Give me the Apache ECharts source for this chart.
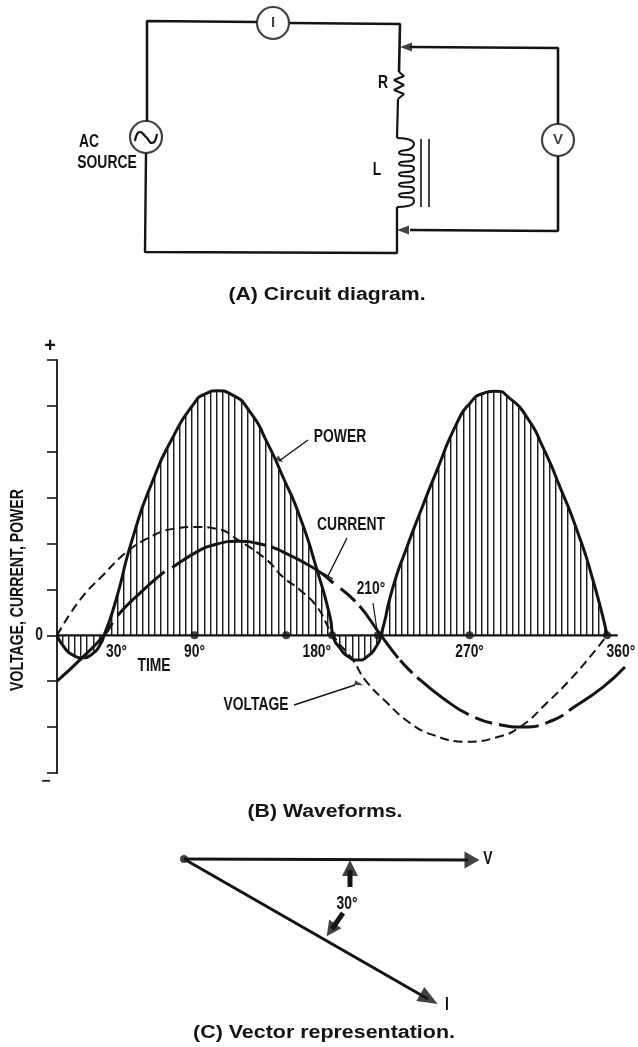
<!DOCTYPE html>
<html><head><meta charset="utf-8">
<style>html,body{margin:0;padding:0;background:#fff}#c{width:638px;height:1047px}</style>
<script src="https://cdn.jsdelivr.net/npm/echarts@6/dist/echarts.min.js"></script>
</head><body><div id="c"></div>
<script>
// --- waveform data: [degrees, relative value]
var power=[[0,0],[5.2,-.28],[10.5,-.43],[16.4,-.49],[22.9,-.41],[28.1,-.21],[30.8,0],[38,.7],[49.7,2.14],[62.8,3.38],[75.9,4.32],[89,5.02],[97,5.26],[105.4,5.33],[114,5.25],[126.3,4.87],[137.4,4.21],[147.9,3.45],[159,2.58],[170.2,1.42],[178.7,.4],[180.6,0],[185.2,-.28],[191,-.47],[196.9,-.54],[203.5,-.45],[208.8,-.25],[212,0],[219.9,1.05],[229,1.92],[237.6,2.67],[248.7,3.6],[261.8,4.63],[270.3,5.06],[278.8,5.27],[286.6,5.32],[296.5,5.16],[307.6,4.75],[318,4.1],[329.2,3.23],[340.3,2.29],[350.8,1.2],[360,0]];
var voltage=[[0,0],[15,.77],[30.1,1.31],[45.8,1.82],[60.9,2.14],[75.9,2.32],[91.6,2.36],[104.7,2.32],[119.8,2.05],[137.4,1.64],[147.9,1.27],[159,.99],[170.2,.62],[180.6,0],[193.7,-.54],[201.6,-.97],[216,-1.47],[231,-1.91],[246,-2.17],[268.3,-2.32],[288,-2.22],[303,-2],[320.7,-1.47],[335.7,-.97],[348.8,-.47],[360,0]];
var current=[[0,-1],[16.4,-.49],[30.8,0],[39.9,.44],[54.3,.92],[69.4,1.36],[75.9,1.49],[91.6,1.82],[104.7,1.99],[118.5,2.05],[132.9,1.99],[147.9,1.82],[170.2,1.42],[178.7,1.2],[196.3,.7],[212,0],[224.5,-.54],[235.6,-.91],[252.6,-1.37],[270.3,-1.74],[289.9,-1.95],[305,-2],[324.6,-1.85],[337.7,-1.58],[357.3,-1.13],[371.7,-.69]];
var baseline=[[0,0],[367,0]];
var axisDots=[[90,0],[150,0],[180,0],[210,0],[270,0],[360,0]];
var timeTicks=[{t:'30°',deg:39},{t:'90°',deg:90},{t:'180°',deg:170},{t:'270°',deg:270},{t:'360°',deg:369}];
// --- diagram paths on a page-sized sheet
var wireLeftTop=[[147,121],[147,21],[257,22]];
var wireTopRight=[[290,23],[400,24],[399,72]];
var resistor=[[399,72],[404,76],[394,80],[404,85],[394,90],[404,94],[398,99]];
var wireMid=[[398,99],[397,138]];
var coil=[[397,138],[407,139],[414,144],[410,149],[401,151],[399,152.5],[402,154.5],[411,155],[414,158],[411,161],[401,162],[399,163.5],[402,165.5],[411,166],[414,168.5],[411,171.5],[401,172.5],[399,174],[402,176],[411,176.5],[414,179],[411,182],[401,183],[399,184.5],[402,186.5],[411,187],[414,189.5],[411,192.5],[401,193.5],[399,195],[402,197],[411,197.5],[414,201],[408,206],[397,207]];
var wireBottom=[[397,207],[397,253],[145,252],[146,153]];
var coreA=[[421,139],[421,207]];
var coreB=[[429,139],[429,207]];
var probeTop=[[410,47],[558,48],[558,124]];
var probeBottom=[[410,230],[558,231],[558,156]];
var sineGlyph=[[135,141],[140,132],[146,137],[152,143],[157,134]];
var meters=[{p:[273,23],t:'I'},{p:[146,137],t:''},{p:[558,140],t:'V'}];
var vectorV=[[184,859],[468,860]];
var vectorI=[[184,859],[428,999]];
var angleUp=[[350,870],[350,887]];
var angleDown=[[343,913],[332,929]];
var leadPower=[[308,440],[279,461]];
var leadCurrent=[[347,538],[328,576]];
var leadCurrentCap=[[323,573],[333,579]];
var lead210=[[373,603],[377,630]];
var leadVoltage=[[294,705],[355,685]];
var heads=[{p:[406,47],r:90,s:[9,12]},{p:[403,230],r:90,s:[9,12]},{p:[472,860],r:-90,s:[17,15]},{p:[429,999],r:-120,s:[16,20]},{p:[350,868],r:0,s:[16,16]},{p:[331,930],r:145,s:[15,15]},{p:[359,684],r:-107,s:[5,9]},{p:[280,460],r:-127,s:[5,8]}];

var INK='#141414';
var NARROW='bold 19px "Liberation Sans",sans-serif';
var CAP='bold 18px "Liberation Sans",sans-serif';
var hatch=document.createElement('canvas');hatch.width=37;hatch.height=2;
(function(){var g=hatch.getContext('2d');for(var i=0;i<6;i++){var x=Math.round(i*6.17);g.fillStyle='#1c1c1c';g.fillRect(x,0,1,2);g.fillStyle='#9a9a9a';g.fillRect(x+1,0,1,2);}})();

function sheet(points,w,smooth){return {type:'line',xAxisIndex:1,yAxisIndex:1,data:points,symbol:'none',smooth:smooth||false,silent:true,lineStyle:{color:INK,width:w},z:3};}
function wave(points,style,extra){return Object.assign({type:'line',data:points,symbol:'none',smooth:0.5,clip:false,silent:true,lineStyle:Object.assign({color:INK},style),z:5},extra||{});}
function label(t,x,y,font,rot,sx){return {type:'text',x:x,y:y,rotation:rot||0,scaleX:sx||0.73,silent:true,z:20,style:{text:t,fill:INK,font:font||NARROW,textAlign:'center',textVerticalAlign:'middle'}};}

var X0=57,PX=1.528,Y0=652;
var texts=timeTicks.map(function(k){return label(k.t,X0+k.deg*PX,Y0);}).concat([
 label('0',39,635),
 label('AC',89,142),label('SOURCE',107,163),label('R',383,83),label('L',377,170),
 label('(A) Circuit diagram.',327,295,CAP,0,1.18),label('(B) Waveforms.',325,812,CAP,0,1.18),label('(C) Vector representation.',324,1033,CAP,0,1.19),
 label('V',488,859),label('I',447,1005),label('30°',347,904),
 label('VOLTAGE, CURRENT, POWER',18,590,NARROW,Math.PI/2,0.74),
 label('+',50,346,'bold 20px "Liberation Sans",sans-serif',0,1),label('−',46,782,'bold 16px "Liberation Sans",sans-serif',0,1),
 label('TIME',154,666),label('VOLTAGE',256,705),label('POWER',340,437),label('CURRENT',351,525),label('210°',371,589)
]);

var series=[
 wave(baseline,{width:2.4},{smooth:false}),
 wave(power,{width:3},{smooth:0.65,areaStyle:{color:{image:hatch,repeat:'repeat'},opacity:1}}),
 wave(voltage,{width:2,type:[9,5]}),
 wave(current,{width:3,type:[81,9,64,9,100,6,72,9,20,6,65,3,18,6,64,7,18,7,40,7,20,7,300,0]}),
 {type:'scatter',data:axisDots,symbol:'circle',symbolSize:8,silent:true,itemStyle:{color:INK},z:6},
 sheet(wireLeftTop,2.6),sheet(wireTopRight,2.6),sheet(resistor,2),sheet(wireMid,2.2),sheet(coil,2,0.5),sheet(wireBottom,2.4),
 sheet(coreA,1.6),sheet(coreB,1.6),sheet(probeTop,2.6),sheet(probeBottom,2.6),
 sheet(vectorV,3),sheet(vectorI,3),sheet(angleUp,5),sheet(angleDown,5),
 sheet(leadPower,1.4),sheet(leadCurrent,1.4),sheet(leadCurrentCap,1.4),sheet(lead210,1.2),sheet(leadVoltage,1.4),
 {type:'scatter',xAxisIndex:1,yAxisIndex:1,silent:true,z:4,symbol:'circle',symbolSize:32,
  data:meters.map(function(m){return {value:m.p,label:{show:true,formatter:m.t,position:'inside',color:INK,fontFamily:'"Liberation Sans",sans-serif',fontWeight:'bold',fontSize:15}};}),
  itemStyle:{color:'#fff',borderColor:INK,borderWidth:2.2}},
 Object.assign(sheet(sineGlyph,2.2,0.6),{z:6}),
 {type:'scatter',xAxisIndex:1,yAxisIndex:1,silent:true,z:7,symbol:'triangle',
  data:heads.map(function(h){return {value:h.p,symbolRotate:h.r,symbolSize:h.s};}),itemStyle:{color:INK}},
 {type:'scatter',xAxisIndex:1,yAxisIndex:1,silent:true,z:7,symbol:'circle',symbolSize:8,data:[vectorV[0]],itemStyle:{color:INK}}
];

var chart=echarts.init(document.getElementById('c'),null,{renderer:'canvas'});
chart.setOption({
 animation:false,backgroundColor:'#fff',tooltip:{show:false},
 grid:[{left:57,top:360,width:568.4,height:413},{left:0,top:0,width:638,height:1047}],
 xAxis:[
  {type:'value',gridIndex:0,min:0,max:372,axisLine:{show:false},axisTick:{show:false},axisLabel:{show:false},splitLine:{show:false}},
  {type:'value',gridIndex:1,min:0,max:638,show:false,splitLine:{show:false}}],
 yAxis:[
  {type:'value',gridIndex:0,min:-3,max:6,interval:1,axisLine:{show:true,lineStyle:{color:INK,width:1.8},onZero:false},axisTick:{show:true,length:10,lineStyle:{color:INK,width:1.6}},splitLine:{show:false},axisLabel:{show:false}},
  {type:'value',gridIndex:1,min:0,max:1047,inverse:true,show:false,splitLine:{show:false}}],
 graphic:{elements:texts},
 series:series
});
</script></body></html>
